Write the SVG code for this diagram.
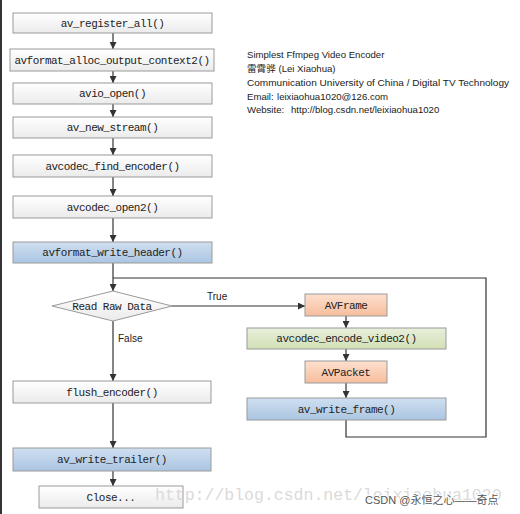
<svg xmlns="http://www.w3.org/2000/svg" width="520" height="514" viewBox="0 0 520 514">
<defs>
<linearGradient id="gWhite" x1="0" y1="0" x2="0" y2="1"><stop offset="0" stop-color="#ffffff"/><stop offset="1" stop-color="#ebebeb"/></linearGradient>
<linearGradient id="gBlue" x1="0" y1="0" x2="0" y2="1"><stop offset="0" stop-color="#cfdff0"/><stop offset="1" stop-color="#abc5e2"/></linearGradient>
<linearGradient id="gOrange" x1="0" y1="0" x2="0" y2="1"><stop offset="0" stop-color="#fde0cf"/><stop offset="1" stop-color="#f6bd9c"/></linearGradient>
<linearGradient id="gGreen" x1="0" y1="0" x2="0" y2="1"><stop offset="0" stop-color="#e8efdb"/><stop offset="1" stop-color="#d2e0b6"/></linearGradient>
<marker id="arr" viewBox="0 0 8 8" refX="8" refY="4" markerWidth="7" markerHeight="7" orient="auto" markerUnits="userSpaceOnUse">
<path d="M0,0 L8,4 L0,8 Z" fill="#333"/>
</marker>
</defs>
<style>
.box{stroke:#9a9a9a;stroke-width:1}
.w{fill:url(#gWhite)}
.b{fill:url(#gBlue)}
.o{fill:url(#gOrange)}
.g{fill:url(#gGreen)}
.t{font-family:"Liberation Mono","DejaVu Sans Mono",monospace;font-size:11px;letter-spacing:-0.5px;fill:#222;text-anchor:middle}
.c{stroke:#333;stroke-width:1.2;fill:none}
.lab{font-family:"Liberation Sans","DejaVu Sans",sans-serif;font-size:10px;fill:#222}
.info{font-family:"Liberation Sans","Noto Sans CJK SC",sans-serif;font-size:9.6px;fill:#222}
</style>
<rect x="0" y="0" width="520" height="514" fill="#ffffff"/>
<line x1="1" y1="0" x2="1" y2="514" stroke="#333" stroke-width="2"/>

<g id="connectors">
<line class="c" x1="113" y1="33" x2="113" y2="49" marker-end="url(#arr)"/>
<line class="c" x1="113" y1="71" x2="113" y2="83" marker-end="url(#arr)"/>
<line class="c" x1="113" y1="104" x2="113" y2="117" marker-end="url(#arr)"/>
<line class="c" x1="113" y1="138" x2="113" y2="155" marker-end="url(#arr)"/>
<line class="c" x1="113" y1="177" x2="113" y2="196" marker-end="url(#arr)"/>
<line class="c" x1="113" y1="218" x2="113" y2="242" marker-end="url(#arr)"/>
<line class="c" x1="113" y1="263" x2="113" y2="291" marker-end="url(#arr)"/>
<polyline class="c" points="346,420 346,437 486,437 486,278 113,278"/>
<line class="c" x1="172" y1="306" x2="305" y2="306" marker-end="url(#arr)"/>
<line class="c" x1="113" y1="321" x2="113" y2="381" marker-end="url(#arr)"/>
<line class="c" x1="113" y1="403" x2="113" y2="448" marker-end="url(#arr)"/>
<line class="c" x1="113" y1="471" x2="113" y2="486" marker-end="url(#arr)"/>
<line class="c" x1="346" y1="316" x2="346" y2="328" marker-end="url(#arr)"/>
<line class="c" x1="346" y1="349" x2="346" y2="361" marker-end="url(#arr)"/>
<line class="c" x1="346" y1="383" x2="346" y2="398" marker-end="url(#arr)"/>
<text class="lab" x="207" y="300">True</text>
<text class="lab" x="118" y="342">False</text>
</g>

<g id="n1"><rect class="box w" x="13" y="13" width="199" height="20"/><text class="t" x="112.5" y="27">av_register_all()</text></g>
<g id="n2"><rect class="box w" x="10" y="49" width="204" height="22"/><text class="t" x="112" y="64">avformat_alloc_output_context2()</text></g>
<g id="n3"><rect class="box w" x="13" y="83" width="199" height="21"/><text class="t" x="112.5" y="97">avio_open()</text></g>
<g id="n4"><rect class="box w" x="13" y="117" width="199" height="21"/><text class="t" x="112.5" y="131">av_new_stream()</text></g>
<g id="n5"><rect class="box w" x="13" y="155" width="199" height="22"/><text class="t" x="112.5" y="170">avcodec_find_encoder()</text></g>
<g id="n6"><rect class="box w" x="13" y="196" width="199" height="22"/><text class="t" x="112.5" y="211">avcodec_open2()</text></g>
<g id="n7"><rect class="box b" x="13" y="242" width="199" height="21"/><text class="t" x="112.5" y="256">avformat_write_header()</text></g>
<g id="n8"><polygon class="box w" points="113,291 172,306 113,321 52,306"/><text class="t" x="112" y="310">Read Raw Data</text></g>
<g id="n9"><rect class="box o" x="305" y="294" width="82" height="22"/><text class="t" x="346" y="309">AVFrame</text></g>
<g id="n10"><rect class="box g" x="247" y="328" width="199" height="21"/><text class="t" x="346.5" y="342">avcodec_encode_video2()</text></g>
<g id="n11"><rect class="box o" x="305" y="361" width="82" height="22"/><text class="t" x="346" y="376">AVPacket</text></g>
<g id="n12"><rect class="box b" x="247" y="398" width="199" height="22"/><text class="t" x="346.5" y="413">av_write_frame()</text></g>
<g id="n13"><rect class="box w" x="13" y="381" width="198" height="22"/><text class="t" x="112" y="396">flush_encoder()</text></g>
<g id="n14"><rect class="box b" x="13" y="448" width="198" height="23"/><text class="t" x="112" y="463">av_write_trailer()</text></g>
<g id="n15"><rect class="box w" x="39" y="486" width="144" height="22"/><text class="t" x="111" y="501">Close...</text></g>

<g id="info">
<text class="info" x="247" y="58">Simplest Ffmpeg Video Encoder</text>
<text class="info" x="247" y="72">雷霄骅 (Lei Xiaohua)</text>
<text class="info" x="247" y="86" textLength="262" lengthAdjust="spacingAndGlyphs">Communication University of China / Digital TV Technology</text>
<text class="info" x="247" y="100">Email:<tspan x="277">leixiaohua1020@126.com</tspan></text>
<text class="info" x="247" y="113">Website:<tspan x="291">http://blog.csdn.net/leixiaohua1020</tspan></text>
</g>

<g id="watermark">
<text x="155" y="500" font-family="Liberation Mono, monospace" font-size="16.5" fill="#dadada">http://blog.csdn.net/leixiaohua1020</text>
<text x="365" y="504" font-family="Liberation Sans, Noto Sans CJK SC, sans-serif" font-size="11" fill="#555" stroke="#ffffff" stroke-width="2" paint-order="stroke">CSDN @永恒之心——奇点</text>
</g>
</svg>
